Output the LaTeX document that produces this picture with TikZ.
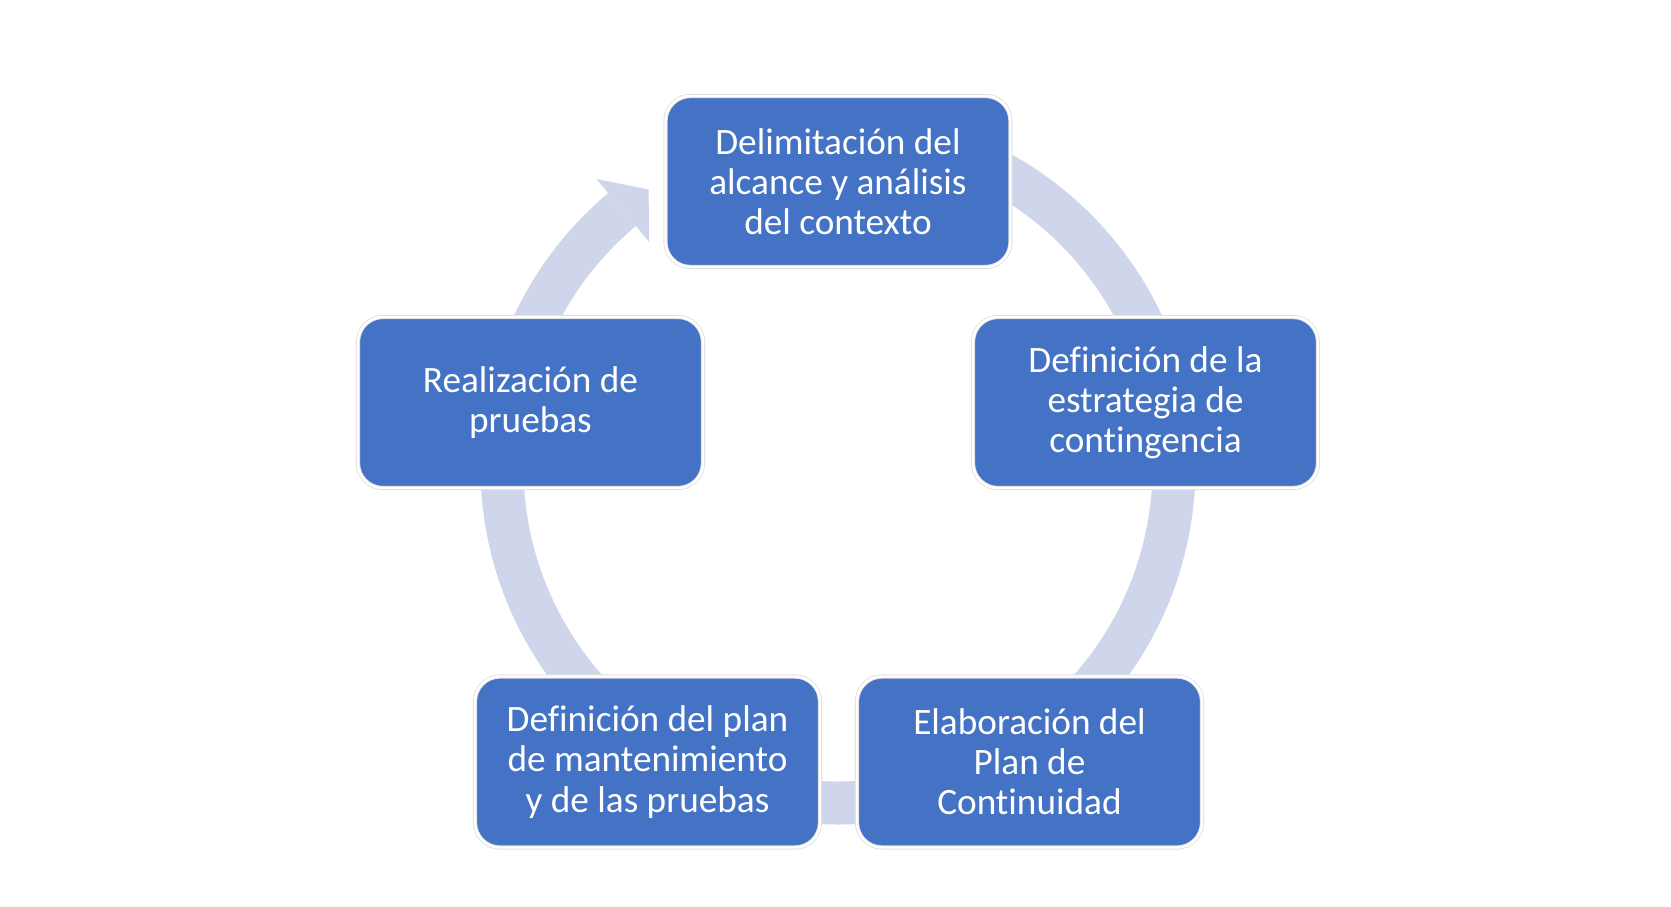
\documentclass[tikz,border=0pt]{standalone}
\usepackage{fontspec}
\setmainfont{Carlito}[Ligatures=NoCommon]
\definecolor{boxblue}{HTML}{4472C4}
\definecolor{ringblue}{HTML}{CFD5EA}
\tikzset{
  phase/.style={rectangle, rounded corners=0.25cm, fill=boxblue,
    draw=black!12, double=white, double distance=0.7pt, line width=0.25pt,
    minimum width=3.45cm, minimum height=1.71cm, inner sep=0pt,
    align=center, text=white, font=\fontsize{10.6}{11.4}\selectfont},
  cyclering/.style={draw=ringblue, line width=0.43cm}
}
\begin{document}
\begin{tikzpicture}
            \useasboundingbox (-8.38,-4.39) rectangle (8.33,4.67);
            \coordinate (hub) at (0,0);
            % Ring behind the boxes
            \draw[cyclering] ([shift={(130:3.36)}]hub) arc (130:450:3.36);
            % Arrow head
            \fill[ringblue] ([shift={(130:3.76)}]hub) -- ([shift={(124.3:3.36)}]hub)
                -- ([shift={(130:2.94)}]hub) -- cycle;
            % Boxes
            \node[phase] (scope) at (0,2.855)
                {Delimitación del\\alcance y análisis\\del contexto};
            \node[phase] (strategy) at (3.075,0.645)
                {Definición de la\\estrategia de\\contingencia};
            \node[phase] (plan) at (1.915,-2.95)
                {Elaboración del\\Plan de\\Continuidad};
            \node[phase] (upkeep) at (-1.905,-2.95)
                {Definición del plan\\de mantenimiento\\y de las pruebas};
            \node[phase] (tests) at (-3.075,0.645)
                {Realización de\\pruebas};
\end{tikzpicture}
\end{document}
